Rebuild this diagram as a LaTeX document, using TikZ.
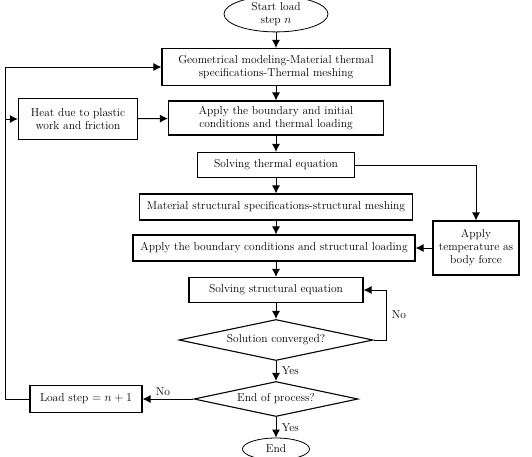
\documentclass[tikz,border=0pt]{standalone}
\usepackage{amsmath}
\usepackage{tikz}
\usetikzlibrary{shapes.geometric,arrows.meta}

\begin{document}
\begin{tikzpicture}[x=1pt,y=-1pt,font=\fontsize{11.5}{13}\selectfont,
    box/.style={draw,line width=1.1pt,align=center,inner sep=2pt},
    decide/.style={draw,diamond,aspect=5,line width=1.1pt,inner sep=0pt},
    term/.style={draw,ellipse,line width=0.8pt,align=center,inner sep=1pt},
    flow/.style={line width=1pt,-{Latex[length=8pt,width=8pt]}}]
    \useasboundingbox (0,0) rectangle (532,456);

    \node[term,minimum width=104,minimum height=32] (start) at (276,14) {Start load\\ step $n$};
    \node[box,minimum width=228,minimum height=37] (geo) at (276,67)
        {Geometrical modeling-Material thermal\\ specifications-Thermal meshing};
    \node[box,minimum width=119,minimum height=41] (heat) at (78,119) {Heat due to plastic\\ work and friction};
    \node[box,minimum width=215,minimum height=34] (bct) at (276,118)
        {Apply the boundary and initial\\ conditions and thermal loading};
    \node[box,minimum width=157,minimum height=25] (sth) at (276,165) {Solving thermal equation};
    \node[box,minimum width=273,minimum height=26] (mat) at (276,207)
        {Material structural specifications-structural meshing};
    \node[box,minimum width=282,minimum height=26] (bcs) at (274,248)
        {Apply the boundary conditions and structural loading};
    \node[box,minimum width=86,minimum height=54] (temp) at (476,248) {Apply\\ temperature as\\ body force};
    \node[box,minimum width=174,minimum height=25] (sst) at (276,290) {Solving structural equation};
    \node[decide,minimum width=194,minimum height=41] (conv) at (276,340) {Solution converged?};
    \node[decide,minimum width=164,minimum height=35] (endp) at (276,399) {End of process?};
    \node[box,minimum width=112,minimum height=27] (load) at (86,399) {Load step $= n+1$};
    \node[term,minimum width=67,minimum height=22] (fin) at (276,449) {End};

    \coordinate (lft) at (5,0);
    \coordinate (rgt) at (386,0);

    % main column
    \draw[flow] (start) -- (geo);
    \draw[flow] (geo) -- (bct);
    \draw[flow] (bct) -- (sth);
    \draw[flow] (sth) -- (mat);
    \draw[flow] (mat) -- (bcs.north -| mat.south);
    \draw[flow] (bcs.south -| sst.north) -- (sst);
    \draw[flow] (sst) -- (conv);
    \draw[flow] (conv) -- node[right,xshift=2pt] {Yes} (endp);
    \draw[flow] (endp) -- node[right,xshift=2pt] {Yes} (fin);

    % side branches
    \draw[flow] (heat) -- (bct);
    \draw[flow] (sth.east) -| (temp.north);
    \draw[flow] (temp) -- (bcs);
    \draw[flow] (conv.east) -- (conv.east -| rgt) |- node[pos=0.25,right,xshift=2pt] {No} (sst.east);
    \draw[flow] (endp.west) -- node[above,pos=0.6] {No} (load.east);

    % loop back
    \draw[flow] (load.west) -- (load.west -| lft) |- (geo.west);
    \draw[flow] (heat.west -| lft) -- (heat.west);
\end{tikzpicture}
\end{document}
